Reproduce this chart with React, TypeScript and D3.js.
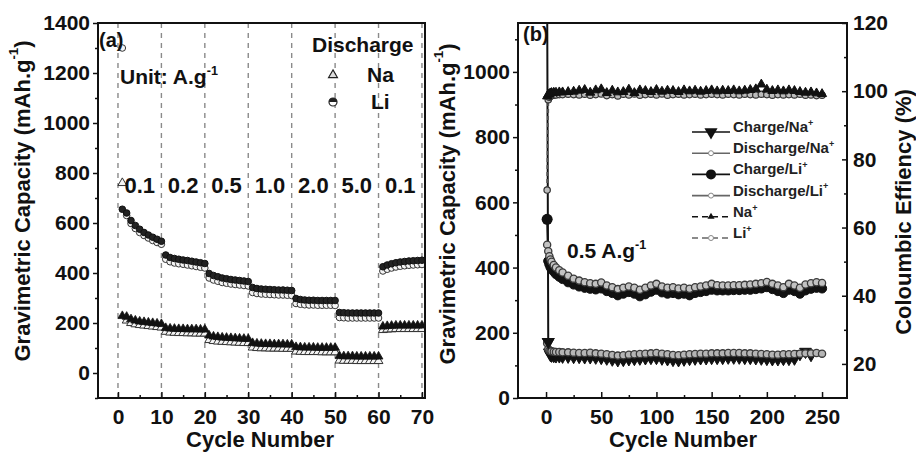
import { useRef, useEffect } from 'react';
import * as d3 from 'd3';

const FONT = '"Liberation Sans", Arial, Helvetica, sans-serif';

// ---- panel (a): rate capability ----
const cyclesA = d3.range(1, 71);
const liChargeA = [
  655, 640, 610, 590, 575, 562, 552, 543, 535, 527,
  472, 462, 458, 455, 452, 450, 447, 444, 441, 438,
  398, 390, 385, 380, 377, 374, 372, 370, 368, 366,
  342, 338, 336, 335, 334, 333, 332, 332, 331, 330,
  298, 294, 292, 291, 291, 290, 290, 290, 290, 290,
  242, 241, 240, 240, 240, 240, 240, 240, 240, 240,
  425, 432, 437, 441, 444, 446, 448, 449, 450, 451
];
const liDischargeA = [
  1300, 630, 598, 578, 562, 550, 540, 530, 522, 515,
  455, 445, 440, 437, 435, 432, 429, 426, 423, 420,
  380, 372, 367, 362, 359, 356, 354, 352, 350, 348,
  322, 318, 316, 315, 314, 313, 312, 312, 311, 310,
  278, 275, 273, 272, 272, 271, 271, 271, 271, 270,
  222, 221, 220, 220, 220, 220, 220, 220, 220, 220,
  408, 415, 420, 424, 427, 429, 431, 432, 433, 434
];
const naChargeA = [
  228, 225, 215, 210, 206, 204, 202, 200, 198, 196,
  180, 178, 177, 176, 176, 175, 175, 175, 174, 174,
  150, 146, 144, 142, 141, 140, 139, 138, 137, 136,
  120, 118, 117, 116, 116, 115, 115, 115, 114, 114,
  104, 103, 102, 102, 102, 101, 101, 101, 101, 101,
  68, 67, 67, 67, 66, 66, 66, 66, 66, 66,
  186, 188, 189, 190, 190, 190, 190, 190, 190, 190
];
const naDischargeA = [
  760, 210, 200, 195, 192, 190, 188, 186, 184, 182,
  165, 162, 161, 160, 160, 159, 159, 158, 158, 158,
  132, 128, 126, 125, 124, 123, 122, 121, 120, 120,
  102, 100, 99, 99, 98, 98, 98, 97, 97, 97,
  86, 85, 84, 84, 84, 84, 83, 83, 83, 83,
  50, 49, 49, 49, 48, 48, 48, 48, 48, 48,
  172, 174, 175, 176, 176, 176, 176, 176, 176, 176
];
const rateLabels = ['0.1', '0.2', '0.5', '1.0', '2.0', '5.0', '0.1'];
const rateCenters = [5, 15, 25, 35, 45, 55, 65];
const rateLabelLevel = 750;
const ticksAX = [0, 10, 20, 30, 40, 50, 60, 70];
const minorAX = [5, 15, 25, 35, 45, 55, 65];
const ticksAY = [0, 200, 400, 600, 800, 1000, 1200, 1400];
const minorAY = [-100, 100, 300, 500, 700, 900, 1100, 1300];

// ---- panel (b): long cycling at 0.5 A/g ----
const cyclesB = [
  1, 2, 3, 4, 5, 7, 9, 12, 15, 20, 25, 30, 35, 40, 45, 50, 55, 60, 65, 70,
  75, 80, 85, 90, 95, 100, 105, 110, 115, 120, 125, 130, 135, 140, 145, 150,
  155, 160, 165, 170, 175, 180, 185, 190, 195, 200, 205, 210, 215, 220, 225,
  230, 235, 240, 245, 250
];
const liDischargeB = [
  470, 450, 435, 425, 418, 408, 400, 392, 385, 375, 366, 360, 355, 352, 350, 354, 345, 340, 334, 338,
  342, 338, 332, 338, 345, 350, 342, 338, 340, 336, 338, 335, 340, 342, 345, 350,
  346, 345, 345, 346, 346, 347, 348, 350, 352, 356, 350, 345, 340, 350, 345,
  338, 348, 352, 355, 353
];
const liChargeB = [
  548, 420, 410, 402, 396, 388, 380, 372, 365, 355, 348, 342, 338, 335, 333, 336, 328, 322, 315, 320,
  325, 320, 312, 318, 326, 332, 324, 320, 322, 318, 320, 315, 322, 325, 328, 332,
  330, 330, 330, 331, 331, 332, 332, 334, 336, 340, 334, 328, 322, 332, 328,
  320, 330, 335, 338, 336
];
const naDischargeB = [
  168, 150, 146, 144, 143, 142, 141, 141, 140, 140, 139, 138, 138, 139, 137, 136, 134, 132, 130, 131,
  133, 134, 135, 136, 137, 138, 136, 134, 132, 131, 133, 134, 135, 136, 136, 137,
  137, 137, 138, 138, 138, 137, 137, 136, 135, 134, 133, 133, 134, 134, 135,
  136, 137, 137, 138, 136
];
const naChargeB = [
  1250, 172, 140, 132, 130, 129, 128, 128, 127, 127, 126, 126, 125, 125, 124, 123, 121, 118, 116, 117,
  119, 120, 121, 122, 123, 123, 121, 119, 117, 116, 118, 120, 121, 122, 122, 123,
  123, 123, 124, 124, 124, 123, 123, 122, 121, 120, 119, 119, 120, 120, 121,
  135, 142, 132
];
const naEffB = [
  98.5, 99, 99.2, 99.4, 99.5, 99.6, 99.6, 99.7, 99.7, 99.8, 99.9, 100.2, 100.4, 99.6, 100.3, 100.6, 99.5, 100.2, 99.7, 99.8,
  100.5, 99.5, 100.3, 100.1, 99.8, 100.4, 99.9, 100.2, 100.1, 99.8, 100.3, 100.0, 100.2, 99.9, 100.1, 100.3,
  100.0, 100.2, 100.1, 100.3, 100.0, 100.2, 100.4, 100.6, 102.0, 100.5, 100.1, 100.3, 100.0, 100.3, 100.1,
  99.8, 99.6, 99.7, 99.4, 99.2
];
const liEffB = [
  71, 97.5, 98.2, 98.5, 98.7, 98.8, 98.9, 99.0, 99.0, 99.1, 99.0, 98.9, 99.1, 98.8, 99.0, 99.2, 98.7, 99.0, 98.6, 99.1,
  98.9, 99.2, 98.8, 99.0, 99.1, 98.9, 99.2, 98.8, 99.0, 99.1, 98.9, 99.0, 99.1, 98.9, 99.0, 99.1,
  99.0, 98.9, 99.1, 99.0, 98.9, 99.1, 99.0, 98.9, 99.1, 99.0, 98.8, 99.0, 98.9, 99.0, 98.9,
  99.1, 98.8, 98.9, 98.7, 98.8
];
const ticksBX = [0, 50, 100, 150, 200, 250];
const minorBX = [25, 75, 125, 175, 225];
const ticksBY = [0, 200, 400, 600, 800, 1000];
const minorBY = [100, 300, 500, 700, 900, 1100];
const ticksBY2 = [20, 40, 60, 80, 100, 120];
const minorBY2 = [30, 50, 70, 90, 110];
const legendB = [
  { name: 'Charge/Na', ion: '+', kind: 'chargeNa' },
  { name: 'Discharge/Na', ion: '+', kind: 'dis' },
  { name: 'Charge/Li', ion: '+', kind: 'chargeLi' },
  { name: 'Discharge/Li', ion: '+', kind: 'dis' },
  { name: 'Na', ion: '+', kind: 'effNa' },
  { name: 'Li', ion: '+', kind: 'effLi' }
];

// write text with superscript parts: [text, isSup]
function rich(sel, parts, size) {
  let up = false;
  parts.forEach(([t, sup]) => {
    const dy = sup && !up ? -size * 0.42 : !sup && up ? size * 0.42 : 0;
    sel.append('tspan')
      .attr('font-size', sup ? size * 0.6 : size)
      .attr('dy', dy)
      .text(t);
    up = sup;
  });
  return sel;
}

function styleAxis(g, size) {
  g.select('.domain').remove();
  g.selectAll('line').attr('stroke', '#111').attr('stroke-width', 1.5);
  g.selectAll('text')
    .attr('fill', '#111')
    .style('font-family', FONT)
    .style('font-weight', 'bold')
    .style('font-size', size + 'px');
}

function Chart() {
  const svgRef = useRef(null);

  useEffect(() => {
    const svg = d3.select(svgRef.current);
    svg.selectAll('*').remove();

    const fa = { l: 98, r: 425, t: 23, b: 398 };
    const fb = { l: 518, r: 847, t: 23, b: 398 };
    const fmt = d3.format('d');

    const xA = d3.scaleLinear().domain([-4.6, 70.7]).range([fa.l, fa.r]);
    const yA = d3.scaleLinear().domain([-100, 1400]).range([fa.b, fa.t]);
    const xB = d3.scaleLinear().domain([-25.4, 272.6]).range([fb.l, fb.r]);
    const yB = d3.scaleLinear().domain([0, 1150]).range([fb.b, fb.t]);
    const yB2 = d3.scaleLinear().domain([10, 120]).range([fb.b, fb.t]);

    const defs = svg.append('defs');
    defs.append('clipPath').attr('id', 'clipA').append('rect')
      .attr('x', fa.l).attr('y', fa.t).attr('width', fa.r - fa.l).attr('height', fa.b - fa.t);
    defs.append('clipPath').attr('id', 'clipB').append('rect')
      .attr('x', fb.l).attr('y', fb.t).attr('width', fb.r - fb.l).attr('height', fb.b - fb.t);

    const tri = d3.symbol().type(d3.symbolTriangle);

    // ===== Panel (a) =====
    const ga = svg.append('g');
    const pa = ga.append('g').attr('clip-path', 'url(#clipA)');

    // dashed rate boundaries
    pa.selectAll('line.sep').data(ticksAX).enter().append('line')
      .attr('x1', d => xA(d)).attr('x2', d => xA(d))
      .attr('y1', fa.t).attr('y2', fa.b)
      .attr('stroke', '#8a8a8a').attr('stroke-width', 1.4).attr('stroke-dasharray', '5,5');

    const zipA = arr => arr.map((v, i) => ({ c: cyclesA[i], v }));

    // hollow (discharge) rows first
    pa.selectAll('path.naD').data(zipA(naDischargeA)).enter().append('path')
      .attr('d', tri.size(34)())
      .attr('transform', d => `translate(${xA(d.c)},${yA(d.v)})`)
      .attr('fill', '#f4f4f4').attr('stroke', '#333').attr('stroke-width', 1);
    pa.selectAll('circle.liD').data(zipA(liDischargeA)).enter().append('circle')
      .attr('cx', d => xA(d.c)).attr('cy', d => yA(d.v)).attr('r', 3.3)
      .attr('fill', '#f4f4f4').attr('stroke', '#333').attr('stroke-width', 1);
    pa.selectAll('path.naC').data(zipA(naChargeA)).enter().append('path')
      .attr('d', tri.size(34)())
      .attr('transform', d => `translate(${xA(d.c)},${yA(d.v)})`)
      .attr('fill', '#111').attr('stroke', '#111').attr('stroke-width', 0.8);
    pa.selectAll('circle.liC').data(zipA(liChargeA)).enter().append('circle')
      .attr('cx', d => xA(d.c)).attr('cy', d => yA(d.v)).attr('r', 3.3)
      .attr('fill', '#222').attr('stroke', '#111').attr('stroke-width', 1);

    // rate labels
    ga.selectAll('text.rate').data(rateLabels).enter().append('text')
      .attr('x', (d, i) => xA(rateCenters[i]))
      .attr('y', yA(rateLabelLevel))
      .attr('dy', '0.36em')
      .attr('text-anchor', 'middle')
      .style('font-family', FONT).style('font-weight', 'bold').style('font-size', '22px')
      .attr('fill', '#111')
      .text(d => d);

    // frame
    ga.append('rect').attr('x', fa.l).attr('y', fa.t)
      .attr('width', fa.r - fa.l).attr('height', fa.b - fa.t)
      .attr('fill', 'none').attr('stroke', '#111').attr('stroke-width', 2);

    // axes
    styleAxis(ga.append('g').attr('transform', `translate(${fa.l},0)`)
      .call(d3.axisLeft(yA).tickValues(ticksAY).tickFormat(fmt).tickSize(5).tickPadding(3)), 21);
    styleAxis(ga.append('g').attr('transform', `translate(${fa.l},0)`)
      .call(d3.axisLeft(yA).tickValues(minorAY).tickSize(3).tickFormat(() => '')), 21);
    styleAxis(ga.append('g').attr('transform', `translate(0,${fa.b})`)
      .call(d3.axisBottom(xA).tickValues(ticksAX).tickFormat(fmt).tickSizeInner(-6).tickSizeOuter(0).tickPadding(11)), 21);
    styleAxis(ga.append('g').attr('transform', `translate(0,${fa.b})`)
      .call(d3.axisBottom(xA).tickValues(minorAX).tickSizeInner(-3).tickSizeOuter(0).tickFormat(() => '')), 21);

    // titles
    ga.append('text').attr('x', 260).attr('y', 447).attr('text-anchor', 'middle')
      .style('font-family', FONT).style('font-weight', 'bold').style('font-size', '22px').attr('fill', '#111')
      .text('Cycle Number');
    rich(ga.append('text').attr('transform', 'translate(22,201) rotate(-90)')
      .attr('text-anchor', 'middle').attr('dominant-baseline', 'central')
      .style('font-family', FONT).style('font-weight', 'bold').attr('fill', '#111'),
      [['Gravimetric Capacity (mAh.g', false], ['-1', true], [')', false]], 22);

    // annotations
    const ann = (sel) => sel.style('font-family', FONT).style('font-weight', 'bold').attr('fill', '#111');
    ann(ga.append('text').attr('x', 99).attr('y', 47).style('font-size', '20px')).text('(a)');
    rich(ann(ga.append('text').attr('x', 120).attr('y', 84)), [['Unit: A.g', false], ['-1', true]], 21);
    ann(ga.append('text').attr('x', 312).attr('y', 52).style('font-size', '21px')).text('Discharge');
    ann(ga.append('text').attr('x', 367).attr('y', 82).style('font-size', '21px')).text('Na');
    ann(ga.append('text').attr('x', 371).attr('y', 109).style('font-size', '21px')).text('Li');
    ga.append('path').attr('d', tri.size(34)()).attr('transform', 'translate(333,75)')
      .attr('fill', '#ddd').attr('stroke', '#222').attr('stroke-width', 1.2);
    ga.append('circle').attr('cx', 333).attr('cy', 102).attr('r', 4)
      .attr('fill', '#fff').attr('stroke', '#222').attr('stroke-width', 1.2);
    ga.append('path').attr('d', d3.arc()({ innerRadius: 0, outerRadius: 4, startAngle: -Math.PI / 2, endAngle: Math.PI / 2 }))
      .attr('transform', 'translate(333,102)').attr('fill', '#222');

    // ===== Panel (b) =====
    const gb = svg.append('g');
    const pb = gb.append('g').attr('clip-path', 'url(#clipB)');
    const zipB = arr => arr.map((v, i) => ({ c: cyclesB[i], v }));

    const drawSeries = (arr, y, o) => {
      const pts = zipB(arr);
      pb.append('path').datum(pts)
        .attr('d', d3.line().x(d => xB(d.c)).y(d => y(d.v)))
        .attr('fill', 'none').attr('stroke', o.line).attr('stroke-width', o.lw || 1.5)
        .attr('stroke-dasharray', o.dash || null);
      const g = pb.append('g');
      if (o.shape === 'circle') {
        g.selectAll('circle').data(pts).enter().append('circle')
          .attr('cx', d => xB(d.c)).attr('cy', d => y(d.v)).attr('r', o.r)
          .attr('fill', o.fill).attr('stroke', o.stroke).attr('stroke-width', o.sw || 1);
      } else {
        g.selectAll('path').data(pts).enter().append('path')
          .attr('d', tri.size(o.size)())
          .attr('transform', d => `translate(${xB(d.c)},${y(d.v)}) rotate(${o.rot || 0})`)
          .attr('fill', o.fill).attr('stroke', o.stroke).attr('stroke-width', o.sw || 1);
      }
    };

    drawSeries(naChargeB, yB, { line: '#111', lw: 2, shape: 'tri', size: 60, rot: 180, fill: '#111', stroke: '#111' });
    drawSeries(naDischargeB, yB, { line: '#555', shape: 'circle', r: 3.6, fill: '#b5b5b5', stroke: '#3a3a3a', sw: 1.3 });
    drawSeries(liChargeB, yB, { line: '#111', lw: 2, shape: 'circle', r: 4.6, fill: '#111', stroke: '#111' });
    drawSeries(liDischargeB, yB, { line: '#555', shape: 'circle', r: 3.6, fill: '#c2c2c2', stroke: '#3a3a3a', sw: 1.3 });
    drawSeries(liEffB, yB2, { line: '#555', lw: 2, dash: '4,3', shape: 'circle', r: 3.2, fill: '#bcbcbc', stroke: '#333', sw: 1.2 });
    drawSeries(naEffB, yB2, { line: '#111', lw: 2, dash: '4,3', shape: 'tri', size: 36, fill: '#111', stroke: '#111' });

    // first-cycle markers are larger
    pb.append('circle').attr('cx', xB(cyclesB[0])).attr('cy', yB(liChargeB[0])).attr('r', 5.5).attr('fill', '#111');
    pb.append('path').attr('d', tri.size(75)())
      .attr('transform', `translate(${xB(cyclesB[1])},${yB(naChargeB[1])}) rotate(180)`).attr('fill', '#111');

    gb.append('rect').attr('x', fb.l).attr('y', fb.t)
      .attr('width', fb.r - fb.l).attr('height', fb.b - fb.t)
      .attr('fill', 'none').attr('stroke', '#111').attr('stroke-width', 2);

    styleAxis(gb.append('g').attr('transform', `translate(${fb.l},0)`)
      .call(d3.axisLeft(yB).tickValues(ticksBY).tickFormat(fmt).tickSize(5).tickPadding(3)), 21);
    styleAxis(gb.append('g').attr('transform', `translate(${fb.l},0)`)
      .call(d3.axisLeft(yB).tickValues(minorBY).tickSize(3).tickFormat(() => '')), 21);
    styleAxis(gb.append('g').attr('transform', `translate(${fb.r},0)`)
      .call(d3.axisRight(yB2).tickValues(ticksBY2).tickFormat(fmt).tickSizeInner(-5).tickSizeOuter(0).tickPadding(6)), 21);
    styleAxis(gb.append('g').attr('transform', `translate(${fb.r},0)`)
      .call(d3.axisRight(yB2).tickValues(minorBY2).tickSizeInner(-3).tickSizeOuter(0).tickFormat(() => '')), 21);
    styleAxis(gb.append('g').attr('transform', `translate(0,${fb.b})`)
      .call(d3.axisBottom(xB).tickValues(ticksBX).tickFormat(fmt).tickSizeInner(-6).tickSizeOuter(0).tickPadding(11)), 21);
    styleAxis(gb.append('g').attr('transform', `translate(0,${fb.b})`)
      .call(d3.axisBottom(xB).tickValues(minorBX).tickSizeInner(-3).tickSizeOuter(0).tickFormat(() => '')), 21);

    gb.append('text').attr('x', 683).attr('y', 447).attr('text-anchor', 'middle')
      .style('font-family', FONT).style('font-weight', 'bold').style('font-size', '22px').attr('fill', '#111')
      .text('Cycle Number');
    rich(gb.append('text').attr('transform', 'translate(447,204) rotate(-90)')
      .attr('text-anchor', 'middle').attr('dominant-baseline', 'central')
      .style('font-family', FONT).style('font-weight', 'bold').attr('fill', '#111'),
      [['Gravimetric Capacity (mAh.g', false], ['-1', true], [')', false]], 22);
    gb.append('text').attr('transform', 'translate(903,212) rotate(-90)')
      .attr('text-anchor', 'middle').attr('dominant-baseline', 'central')
      .style('font-family', FONT).style('font-weight', 'bold').style('font-size', '22px').attr('fill', '#111')
      .text('Coloumbic Effiency (%)');

    ann(gb.append('text').attr('x', 523).attr('y', 41).style('font-size', '20px')).text('(b)');
    rich(ann(gb.append('text').attr('x', 567).attr('y', 258)), [['0.5 A.g', false], ['-1', true]], 21);

    // legend
    const lg = gb.append('g').attr('transform', 'translate(692,132)');
    const rows = lg.selectAll('g.row').data(legendB).enter().append('g')
      .attr('transform', (d, i) => `translate(0,${i * 21.2})`);
    rows.append('line').attr('x1', 0).attr('x2', 38).attr('y1', 0).attr('y2', 0)
      .attr('stroke', d => (d.kind === 'dis' || d.kind === 'effLi') ? '#666' : '#111')
      .attr('stroke-width', 1.6)
      .attr('stroke-dasharray', d => d.kind.startsWith('eff') ? '6,4' : null);
    rows.each(function (d) {
      const r = d3.select(this);
      if (d.kind === 'chargeNa') {
        r.append('path').attr('d', tri.size(75)()).attr('transform', 'translate(19,0) rotate(180)').attr('fill', '#111');
      } else if (d.kind === 'chargeLi') {
        r.append('circle').attr('cx', 19).attr('r', 5).attr('fill', '#111');
      } else if (d.kind === 'effNa') {
        r.append('path').attr('d', tri.size(22)()).attr('transform', 'translate(19,0)').attr('fill', '#111');
      } else {
        r.append('circle').attr('cx', 19).attr('r', 2.5).attr('fill', '#fff').attr('stroke', '#888');
      }
    });
    rows.append('text').attr('x', 41).attr('dy', '0.36em')
      .style('font-family', FONT).style('font-weight', 'bold').attr('fill', '#222')
      .each(function (d) {
        rich(d3.select(this), [[d.name, false], [d.ion, true]], 15);
      });
  }, []);

  return <svg ref={svgRef} width={916} height={452} style={{ display: 'block', background: '#fff' }}></svg>;
}

export default function App() {
  return (
    <div style={{ position: 'fixed', left: 0, top: 0, width: 916, height: 452, background: '#fff' }}>
      <Chart />
    </div>
  );
}
